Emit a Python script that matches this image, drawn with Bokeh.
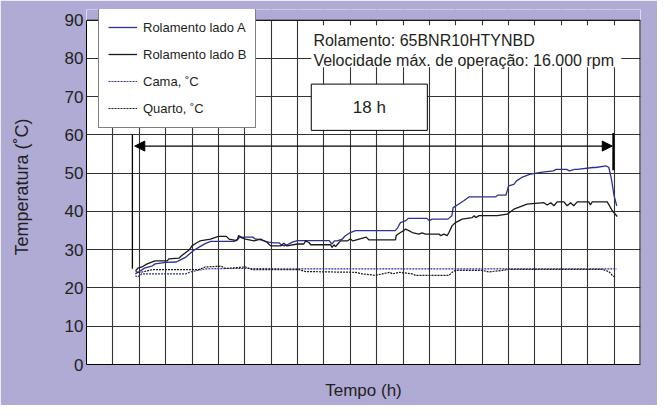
from bokeh.plotting import figure
from bokeh.models import (Legend, LegendItem, Label, Arrow, NormalHead, FixedTicker)
from bokeh.embed import file_html
from bokeh.resources import INLINE

# ---- data ----
tA = [1.85, 2.0, 2.2, 2.5, 2.6, 3.0, 3.4, 3.6, 3.75, 3.9, 4.1, 4.3, 4.5, 4.7, 4.85,
      5.6, 5.75, 5.8, 5.9, 6.0, 6.3, 6.4, 6.5, 6.7, 6.9, 7.1, 7.3, 7.4, 7.5, 7.6,
      7.7, 7.8, 8.0, 9.2, 9.3, 9.4, 9.5, 9.7, 9.8, 10.0, 10.2, 11.7, 11.8, 11.9, 12.1,
      12.2, 12.9, 13.0, 13.1, 13.7, 13.85, 13.9, 14.1, 14.3, 14.5, 15.5, 15.6, 15.9, 16.0, 16.2,
      16.3, 16.5, 16.8, 17.2, 17.7, 17.8, 18.2, 18.3, 18.5, 18.6, 19.2, 19.3, 19.7, 19.8, 19.9,
      20.0, 20.1]
rolamento_a = [23.7, 24.3, 25.2, 25.8, 26.3, 26.7, 26.8, 27.5, 28.0, 28.9, 30.0, 30.8, 31.6, 32.2, 32.2,
               32.2, 32.8, 33.3, 33.2, 33.3, 33.3, 32.8, 32.8, 32.4, 32.0, 31.8, 31.8, 31.2, 31.0, 31.3,
               31.6, 32.0, 32.4, 32.4, 31.5, 32.3, 32.3, 32.8, 33.6, 34.5, 35.0, 35.0, 35.8, 37.1, 37.6,
               38.2, 38.2, 37.6, 38.0, 38.0, 38.9, 41.0, 41.9, 42.8, 43.8, 43.8, 44.3, 44.3, 46.7, 47.1,
               48.0, 48.9, 49.7, 50.2, 50.6, 51.0, 51.0, 50.6, 51.0, 51.0, 51.5, 51.5, 51.9, 51.5, 48.4,
               44.1, 41.5]

tB = [1.86, 1.95, 2.1, 2.3, 2.6, 3.06, 3.12, 3.5, 3.6, 3.9, 4.0, 4.15, 4.3, 4.7, 5.0,
      5.3, 5.4, 5.7, 5.77, 5.9, 6.03, 6.35, 6.6, 6.85, 6.98, 7.36, 7.48, 7.6, 8.0, 8.24,
      8.3, 8.43, 8.5, 9.25, 9.31, 9.38, 9.44, 9.5, 9.63, 9.88, 10.0, 10.1, 10.6, 10.7, 11.71,
      11.74, 11.9, 12.03, 12.09, 12.22, 12.35, 12.6, 12.72, 12.85, 13.36, 13.42, 13.55, 13.67, 13.74, 13.86,
      13.99, 14.24, 14.62, 14.69, 14.75, 14.88, 15.57, 15.95, 16.2, 16.7, 17.34, 17.46, 17.6, 17.72, 17.84,
      18.1, 18.22, 18.35, 18.47, 18.6, 19.04, 19.1, 19.17, 19.74, 19.93, 20.12]
rolamento_b = [24.5, 25.2, 25.5, 26.3, 27.1, 27.1, 27.6, 27.8, 28.4, 30.0, 31.0, 31.7, 32.3, 32.8, 33.5,
               33.5, 32.8, 32.4, 33.7, 33.1, 32.8, 32.3, 32.8, 31.9, 31.0, 31.0, 31.7, 31.0, 31.5, 31.5,
               32.3, 31.9, 31.3, 31.3, 30.6, 31.3, 30.8, 31.3, 32.3, 32.3, 32.8, 32.3, 33.3, 32.6, 32.6,
               33.7, 34.5, 35.0, 35.4, 35.0, 34.5, 34.1, 34.4, 34.1, 34.1, 33.7, 34.1, 33.7, 34.5, 36.3,
               37.1, 38.0, 38.4, 38.9, 38.4, 38.9, 38.9, 39.3, 40.6, 41.9, 42.3, 41.7, 42.3, 41.5, 42.5,
               42.5, 41.5, 42.3, 41.5, 42.5, 42.5, 41.7, 42.5, 42.5, 40.2, 38.7]

tC = [1.85, 1.95, 2.1, 3.75, 4.0, 4.5, 5.3, 6.0, 8.0, 12.0, 16.0, 20.1]
cama = [23.2, 22.9, 23.7, 23.7, 24.3, 25.0, 25.1, 25.1, 25.0, 25.0, 25.0, 25.0]

tQ = [1.86, 2.0, 2.5, 4.26, 4.5, 5.1, 5.27, 6.03, 6.28, 8.05, 8.3, 9.19, 10.2, 10.45, 10.96,
      11.5, 11.6, 11.86, 12.34, 12.47, 13.74, 13.86, 13.99, 15.0, 15.25, 15.76, 16.0, 19.55, 19.8, 19.93,
      20.05]
quarto = [24.3, 24.0, 24.8, 24.8, 25.5, 25.7, 25.1, 25.5, 24.8, 24.8, 24.3, 24.2, 24.1, 23.7, 23.3,
          24.1, 23.7, 24.1, 23.7, 23.3, 23.3, 24.1, 24.6, 24.6, 24.2, 24.6, 24.85, 24.85, 24.3, 23.3,
          22.8]

y_ticks = [0, 10, 20, 30, 40, 50, 60, 70, 80, 90]
x_grid = list(range(0, 22))
X_MAX, Y_MAX = 21, 90
span_start, span_end, span_level = 1.83, 19.93, 57.1

FONT = "Liberation Sans"
LAV = "#afabd5"
BLUE = "#2e3192"
BLACK = "#1a1a1a"
TXT = "#231f20"

# the frame reaches a little above 90 so that the legend box can overlap the top edge
p = figure(width=657, height=405, output_backend="svg", toolbar_location=None,
           x_range=(0, X_MAX), y_range=(0, 92.8),
           min_border_left=86, min_border_right=17, min_border_top=9, min_border_bottom=41)
p.background_fill_color = "white"
p.border_fill_color = LAV
p.outline_line_color = None

# axes
p.xaxis.ticker = FixedTicker(ticks=x_grid)
p.yaxis.ticker = FixedTicker(ticks=y_ticks)
p.xgrid.ticker = FixedTicker(ticks=x_grid)
p.ygrid.ticker = FixedTicker(ticks=y_ticks)
p.yaxis.bounds = (0, Y_MAX)
for g in (p.xgrid, p.ygrid):
    g.grid_line_color = "#333333"
    g.grid_line_width = 1.1
for ax in (p.xaxis, p.yaxis):
    ax.axis_line_color = "black"
    ax.major_tick_line_color = None
    ax.minor_tick_line_color = None
    ax.major_tick_out = 0
    ax.major_tick_in = 0
    ax.minor_tick_out = 0
    ax.axis_label_text_font = FONT
    ax.axis_label_text_font_style = "normal"
    ax.axis_label_text_color = TXT
    ax.major_label_text_font = FONT
    ax.major_label_text_color = TXT
p.xaxis.major_label_text_font_size = "0px"
p.xaxis.major_label_text_color = None
p.xaxis.axis_label = "Tempo (h)"
p.xaxis.axis_label_text_font_size = "17px"
p.xaxis.axis_label_standoff = 16
p.yaxis.axis_label = "Temperatura (˚C)"
p.yaxis.axis_label_text_font_size = "18px"
p.yaxis.axis_label_standoff = 30
p.yaxis.major_label_text_font_size = "17px"
p.yaxis.major_label_standoff = 3

# lavender strip above the plotting area and the frame's top/right edges
p.quad(left=[0], right=[X_MAX], bottom=[Y_MAX], top=[95], fill_color=LAV, line_color=None)
p.segment(x0=[0], y0=[Y_MAX], x1=[X_MAX], y1=[Y_MAX], line_color="black", line_width=1)
p.segment(x0=[X_MAX], y0=[0], x1=[X_MAX], y1=[Y_MAX], line_color="black", line_width=2)

# white boxes for the annotations (cover grid)
p.quad(left=[8.52], right=[20.27], top=[88.7], bottom=[77.7],
       fill_color="white", line_color=None)
p.quad(left=[8.52], right=[12.92], top=[73.3], bottom=[61.2],
       fill_color="white", line_color="black", line_width=1)

p.add_layout(Label(x=8.6, y=84.7, text="Rolamento: 65BNR10HTYNBD",
                   text_font=FONT, text_font_size="16px", text_color=TXT,
                   text_baseline="alphabetic"))
p.add_layout(Label(x=8.6, y=79.5, text="Velocidade máx. de operação: 16.000 rpm",
                   text_font=FONT, text_font_size="16px", text_color=TXT,
                   text_baseline="alphabetic"))
p.add_layout(Label(x=10.72, y=67.2, text="18 h",
                   text_font=FONT, text_font_size="17px", text_color=TXT,
                   text_align="center", text_baseline="middle"))

# span arrow and marker lines
p.segment(x0=[1.74], y0=[25.0], x1=[1.74], y1=[60.0], line_color="black", line_width=1.3)
p.segment(x0=[19.97], y0=[50.8], x1=[19.97], y1=[60.5], line_color="black", line_width=2)
p.add_layout(Arrow(start=NormalHead(size=10, fill_color="black", line_color="black"),
                   end=NormalHead(size=10, fill_color="black", line_color="black"),
                   x_start=span_start, y_start=span_level, x_end=span_end, y_end=span_level,
                   line_color="black", line_width=1.3))

# data series
rA = p.line(tA, rolamento_a, line_color=BLUE, line_width=1.3)
rB = p.line(tB, rolamento_b, line_color=BLACK, line_width=1.3)
rC = p.line(tC, cama, line_color=BLUE, line_width=1.2, line_dash="2 1")
rQ = p.line(tQ, quarto, line_color=BLACK, line_width=1.2, line_dash="2 1")

legend = Legend(items=[LegendItem(label="Rolamento lado A", renderers=[rA]),
                       LegendItem(label="Rolamento lado B", renderers=[rB]),
                       LegendItem(label="Cama, ˚C", renderers=[rC]),
                       LegendItem(label="Quarto, ˚C", renderers=[rQ])],
                location=(12, 236))
legend.label_text_font = FONT
legend.label_text_font_size = "13px"
legend.label_text_color = TXT
legend.border_line_color = "black"
legend.border_line_width = 1
legend.background_fill_color = "white"
legend.background_fill_alpha = 1
legend.glyph_width = 29
legend.glyph_height = 20
legend.label_height = 20
legend.spacing = 7
legend.padding = 9
legend.label_standoff = 6
legend.margin = 0
p.add_layout(legend, "center")

open("out.html", "w").write(file_html(p, INLINE))
